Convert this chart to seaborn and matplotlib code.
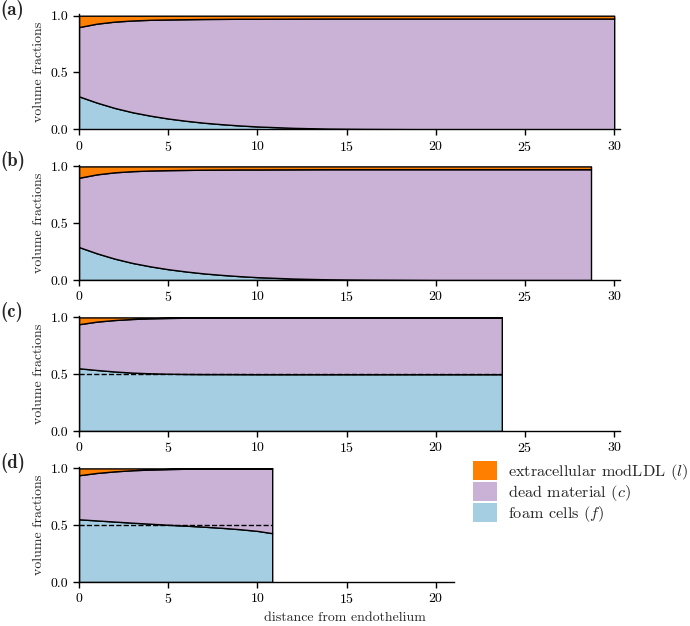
import numpy as np
import matplotlib
matplotlib.use("Agg")
import matplotlib.pyplot as plt
from matplotlib.patches import Patch
import seaborn as sns

# volume fractions: foam cells (f), dead material (c), modLDL (l)
x_a = [0, 1, 2, 3, 4, 5, 6, 7, 8, 9, 10, 12, 14, 16, 20, 25, 30]
f_a = [0.290, 0.235, 0.188, 0.150, 0.120, 0.095, 0.075, 0.058, 0.045, 0.034,
       0.025, 0.013, 0.006, 0.003, 0.0, 0.0, 0.0]
cf_a = [0.900, 0.930, 0.948, 0.958, 0.964, 0.967, 0.969, 0.971, 0.972, 0.973,
        0.973, 0.974, 0.975, 0.975, 0.975, 0.975, 0.975]

x_b = [0, 1, 2, 3, 4, 5, 6, 7, 8, 9, 10, 12, 14, 16, 20, 25, 28.7]
f_b = [0.290, 0.235, 0.188, 0.150, 0.120, 0.095, 0.075, 0.058, 0.045, 0.034,
       0.025, 0.013, 0.006, 0.003, 0.0, 0.0, 0.0]
cf_b = [0.900, 0.930, 0.948, 0.958, 0.964, 0.967, 0.969, 0.971, 0.972, 0.973,
        0.973, 0.974, 0.975, 0.975, 0.975, 0.975, 0.975]

x_c = [0, 1, 2, 3, 4, 5, 6, 7, 8, 10, 15, 20, 23.7]
f_c = [0.552, 0.537, 0.524, 0.514, 0.508, 0.504, 0.502, 0.501, 0.501, 0.500,
       0.500, 0.500, 0.500]
cf_c = [0.940, 0.963, 0.977, 0.986, 0.992, 0.995, 0.997, 0.999, 1.0, 1.0,
        1.0, 1.0, 1.0]

x_d = [0, 1, 2, 3, 4, 5, 6, 7, 8, 9, 10, 10.83]
f_d = [0.552, 0.542, 0.532, 0.522, 0.513, 0.504, 0.496, 0.487, 0.477, 0.465,
       0.450, 0.430]
cf_d = [0.940, 0.960, 0.974, 0.984, 0.990, 0.994, 0.997, 0.999, 1.0, 1.0,
        1.0, 1.0]

panels = [
    ("(a)", x_a, f_a, cf_a, False, 30.3, [0, 5, 10, 15, 20, 25, 30]),
    ("(b)", x_b, f_b, cf_b, False, 30.3, [0, 5, 10, 15, 20, 25, 30]),
    ("(c)", x_c, f_c, cf_c, True, 30.3, [0, 5, 10, 15, 20, 25, 30]),
    ("(d)", x_d, f_d, cf_d, True, 21.0, [0, 5, 10, 15, 20]),
]

legend_labels = ["extracellular modLDL ($l$)", "dead material ($c$)", "foam cells ($f$)"]

sns.set_style("ticks")
plt.rcParams["font.family"] = ["cmr10"]
plt.rcParams["mathtext.fontset"] = "cm"
plt.rcParams["axes.formatter.use_mathtext"] = True
plt.rcParams["font.size"] = 10

pal = sns.color_palette("Paired")
col_f, col_c, col_l = pal[0], pal[8], pal[7]

W, H = 690, 626
fig = plt.figure(figsize=(W / 100, H / 100), dpi=100)

px_per_unit = 17.84
left_px = 79
zero_px = [129.3, 280.0, 431.0, 582.0]
axis_h_px = 113.6 * 1.015

for (lab, x, f, cf, dashed, xmax, xt), zp in zip(panels, zero_px):
    x = np.array(x)
    f = np.array(f)
    c = np.array(cf) - f
    l = 1.0 - np.array(cf)
    ax = fig.add_axes([left_px / W, (H - zp) / H,
                       xmax * px_per_unit / W, axis_h_px / H])
    ax.stackplot(x, f, c, l, colors=[col_f, col_c, col_l],
                 edgecolor="black", linewidth=1.0)
    if dashed:
        ax.plot([0, x[-1]], [0.5, 0.5], color="black", ls="--", lw=1.0)
    ax.set_xlim(0, xmax)
    ax.set_ylim(0, 1.015)
    ax.set_xticks(xt)
    ax.set_yticks([0, 0.5, 1.0])
    ax.set_yticklabels(["0.0", "0.5", "1.0"])
    ax.set_ylabel("volume fractions")
    ax.tick_params(direction="out", length=4, width=1, colors="black")
    for s in ["left", "bottom"]:
        ax.spines[s].set_color("black")
        ax.spines[s].set_linewidth(1.0)
    sns.despine(ax=ax)
    fig.text(0 / W, 1 - (zp - 119) / H, lab, fontfamily="cmb10",
             fontsize=13.5, ha="left", va="center")

fig.text(0.5, 1 - 618 / H, "distance from endothelium", ha="center", va="center")

handles = [Patch(facecolor=col_l, edgecolor="none"),
           Patch(facecolor=col_c, edgecolor="none"),
           Patch(facecolor=col_f, edgecolor="none")]
fig.legend(handles, legend_labels, loc="upper left",
           bbox_to_anchor=(473 / W, 1 - 461 / H), frameon=False,
           borderpad=0, borderaxespad=0, labelspacing=0, fontsize=11.7,
           handlelength=1.46, handleheight=1.42, handletextpad=0.67)

fig.savefig("out.png", dpi=100)
